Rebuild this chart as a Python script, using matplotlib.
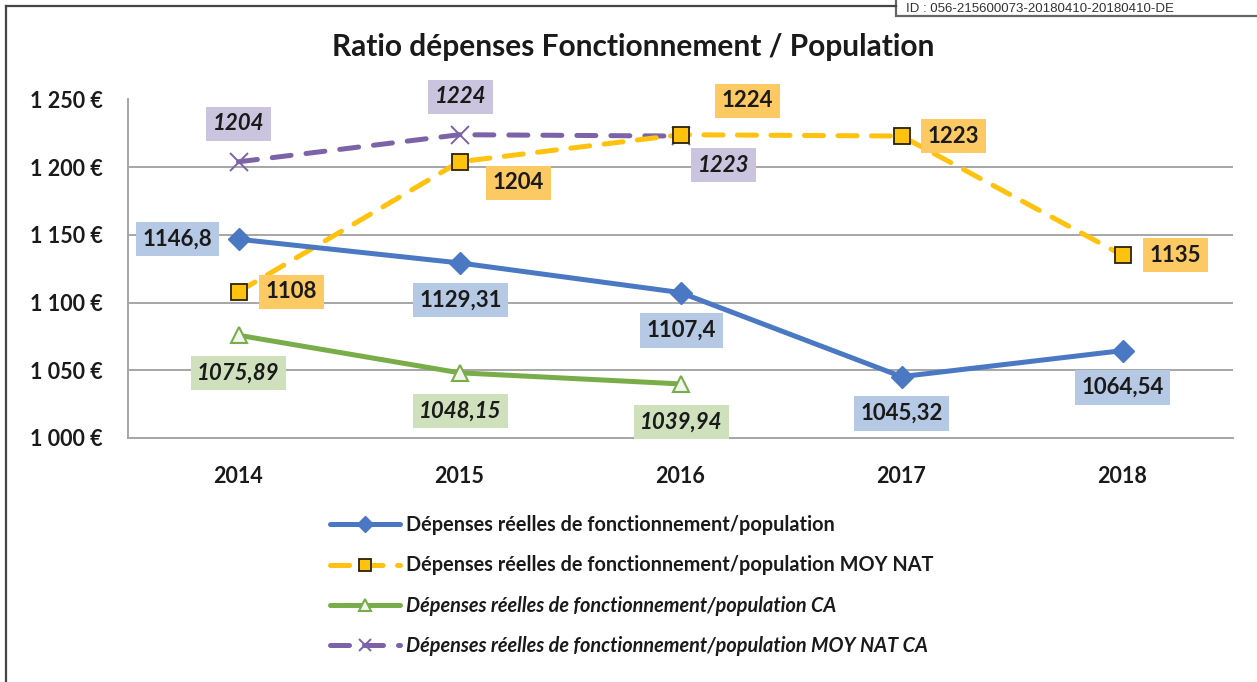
import numpy as np
import matplotlib
matplotlib.use("Agg")
import matplotlib.pyplot as plt
from matplotlib.lines import Line2D
from matplotlib.patches import Rectangle

plt.rcParams['font.family'] = ['Lato', 'DejaVu Sans']

# ---- data ----
years = ["2014", "2015", "2016", "2017", "2018"]
dep_reelles = [1146.8, 1129.31, 1107.4, 1045.32, 1064.54]
dep_moy_nat = [1108, 1204, 1224, 1223, 1135]
dep_ca = [1075.89, 1048.15, 1039.94, np.nan, np.nan]
dep_moy_nat_ca = [1204, 1224, 1223, np.nan, np.nan]

lbl_reelles = ["1146,8", "1129,31", "1107,4", "1045,32", "1064,54"]
lbl_moy_nat = ["1108", "1204", "1224", "1223", "1135"]
lbl_ca = ["1075,89", "1048,15", "1039,94"]
lbl_moy_nat_ca = ["1204", "1224", "1223"]

legend_labels = [
    "Dépenses réelles de fonctionnement/population",
    "Dépenses réelles de fonctionnement/population MOY NAT",
    "Dépenses réelles de fonctionnement/population CA",
    "Dépenses réelles de fonctionnement/population MOY NAT CA",
]
title = "Ratio dépenses Fonctionnement / Population"
stamp = "ID : 056-215600073-20180410-20180410-DE"
yticks = [1000, 1050, 1100, 1150, 1200, 1250]

# ---- style ----
BLUE = "#4a78c2"
ORANGE = "#ffc20e"
GREEN = "#79ad4a"
PURPLE = "#7c63a8"
BG_BLUE = "#b5c8e4"
BG_ORANGE = "#fcc962"
BG_GREEN = "#cfe0bd"
BG_PURPLE = "#cbc4df"
GRID = "#a6a6a6"

W, H = 1257, 682
fig = plt.figure(figsize=(W / 100, H / 100), dpi=100)
ax = fig.add_axes([128 / W, 1 - 438 / H, (1233 - 128) / W, (438 - 99.5) / H])

x = np.arange(len(years))
lw = 3.6

l1, = ax.plot(x, dep_reelles, color=BLUE, lw=lw, marker="D", ms=11,
              mfc=BLUE, mec=BLUE, zorder=5, solid_capstyle="round")
l2, = ax.plot(x, dep_moy_nat, color=ORANGE, lw=lw, marker="s", ms=12,
              mfc=ORANGE, mec="#2b2205", mew=1.3, zorder=4,
              dashes=(3.8, 2.9), dash_capstyle="round")
l3, = ax.plot(x, dep_ca, color=GREEN, lw=lw, marker="^", ms=12,
              mfc="#f2f5ee", mec=GREEN, mew=1.5, zorder=5,
              solid_capstyle="round")
l4, = ax.plot(x, dep_moy_nat_ca, color=PURPLE, lw=lw, marker="x", ms=13,
              mec=PURPLE, mew=1.4, zorder=3,
              dashes=(3.8, 3.0), dash_capstyle="round")

ax.set_xlim(-0.5, len(years) - 0.5)
ax.set_ylim(1000, 1250)
ax.set_yticks(yticks)
ax.set_yticklabels([f"{v:,}".replace(",", " ") + " €" for v in yticks])
ax.set_xticks(x)
ax.set_xticklabels(years)
ax.tick_params(axis="both", length=0, labelsize=15.5, colors="#1a1a1a")
ax.tick_params(axis="y", pad=18)
ax.tick_params(axis="x", pad=20)
for t in ax.get_xticklabels() + ax.get_yticklabels():
    t.set_fontweight("bold")
ax.grid(axis="y", color=GRID, lw=1.4)
ax.set_axisbelow(True)
for s in ["top", "right"]:
    ax.spines[s].set_visible(False)
ax.spines["bottom"].set_color(GRID)
ax.spines["bottom"].set_linewidth(1.4)
ax.spines["left"].set_color(GRID)
ax.spines["left"].set_linewidth(1.4)


def add_labels(vals, labels, offsets, bg, italic):
    for xi, (v, s, off) in enumerate(zip(vals, labels, offsets)):
        ax.annotate(s, (xi, v), xytext=off, textcoords="offset pixels",
                    ha="center", va="center", fontsize=16, fontweight="bold",
                    fontstyle="italic" if italic else "normal", color="#1a1a1a",
                    bbox=dict(boxstyle="square,pad=0.3", fc=bg, ec="none"),
                    zorder=6)


add_labels(dep_reelles, lbl_reelles,
           [(-61, 0), (1, -37), (1, -38), (0, -37), (0, -37)], BG_BLUE, False)
add_labels(dep_moy_nat, lbl_moy_nat,
           [(53, 0), (59, -21), (67, 34), (52, 0), (53, 0)], BG_ORANGE, False)
add_labels(dep_ca, lbl_ca, [(0, -38), (1, -38), (1, -38)], BG_GREEN, True)
add_labels(dep_moy_nat_ca, lbl_moy_nat_ca, [(0, 38), (1, 38), (43, -29)],
           BG_PURPLE, True)

fig.text(633 / W, 1 - 47 / H, title, ha="center", va="center",
         fontsize=21.5, fontweight="bold", color="#1a1a1a")

leg = fig.legend([l1, l2, l3, l4], legend_labels, loc="upper left",
                 bbox_to_anchor=(330 / W, 1 - 515 / H), frameon=False,
                 borderpad=0, borderaxespad=0, handlelength=3.5,
                 handletextpad=0.35, labelspacing=1.03, fontsize=14.3,
                 markerscale=0.7)
for t, it in zip(leg.get_texts(), [False, False, True, True]):
    t.set_fontweight("bold")
    t.set_color("#1a1a1a")
    if it:
        t.set_fontstyle("italic")

# outer frame
fig.add_artist(Line2D([6 / W, 6 / W], [0, 1 - 6 / H], color="#444444", lw=1.6))
fig.add_artist(Line2D([6 / W, 896 / W], [1 - 6 / H, 1 - 6 / H], color="#444444", lw=1.6))
# ID stamp box
fig.add_artist(Rectangle((896 / W, 1 - 16 / H), 400 / W, 40 / H,
                         fc="white", ec="#666666", lw=1.6))
fig.text(906 / W, 1 - 12.5 / H, stamp,
         ha="left", va="baseline", fontsize=9.5, color="#333333",
         family=["Liberation Sans", "DejaVu Sans"])

fig.savefig("out.png", dpi=100, facecolor="white")
